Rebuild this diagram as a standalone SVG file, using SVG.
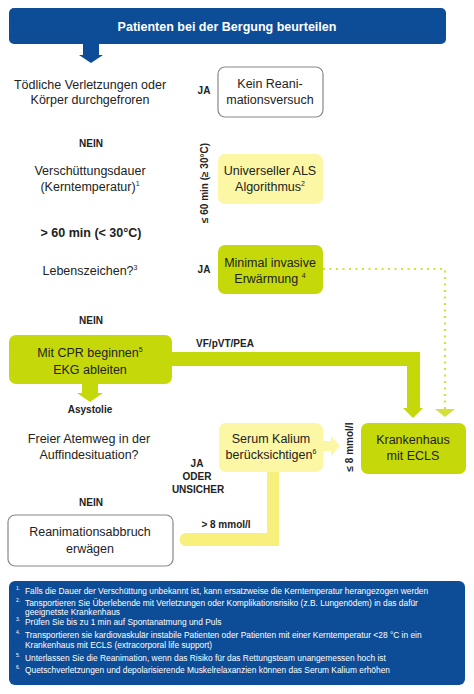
<svg xmlns="http://www.w3.org/2000/svg" width="474" height="694" viewBox="0 0 474 694">
<style>
text{font-family:"Liberation Sans",Arial,sans-serif;fill:#222;}
.t{font-size:12.5px;text-anchor:middle;}
.b{font-size:10px;font-weight:bold;text-anchor:middle;}
.bl{font-size:12.5px;font-weight:bold;text-anchor:middle;}
.w{fill:#fff;stroke:#888;stroke-width:1.2;}
.py{fill:#fbf7a4;}
.lm{fill:#c5d80a;}
.fn{font-size:8.4px;fill:#fff;}
.sn{font-size:5px;fill:#fff;}
</style>
<rect x="0" y="0" width="474" height="694" fill="#fff"/>
<g id="header">
<rect x="9" y="8" width="437" height="36" rx="5" fill="#0d4c96"/>
<text x="227" y="31" style="font-size:12.5px;font-weight:bold;fill:#fff;text-anchor:middle">Patienten bei der Bergung beurteilen</text>
</g>
<g id="connectors">
<path d="M83,43 H99 V55 H103 L91,63 L79,55 H83 Z" fill="#0d4c96"/>
<path d="M82,384 H98 V393 H103 L90,402 L77,393 H82 Z" fill="#c5d80a"/>
<path d="M172,352 H420 V408 H423 L413,418 L403,408 H407 V366 H172 Z" fill="#c5d80a"/>
<path d="M323,269 H445 V409" fill="none" stroke="#d4e03c" stroke-width="2.2" stroke-dasharray="2,4.5"/>
<path d="M435,409 H455 L445,417 Z" fill="#d4e03c"/>
<path d="M322,441 H331 V436 L340,446 L331,456 V451 H322 Z" fill="#fbf7a4"/>
<path d="M267,471 H279 V546 H186 A6.5,6.5 0 0 1 186,533 H267 Z" fill="#f8f07c"/>
<text class="b" transform="translate(208,183) rotate(-90)">≤ 60 min (≥ 30°C)</text>
<text class="b" transform="translate(353,447) rotate(-90)">≤ 8 mmol/l</text>
<text class="b" x="204" y="94">JA</text>
<text class="b" x="204" y="273">JA</text>
<text class="b" x="91" y="147">NEIN</text>
<text class="bl" x="91" y="237">&gt; 60 min (&lt; 30°C)</text>
<text class="b" x="91" y="324">NEIN</text>
<text class="b" x="225" y="347">VF/pVT/PEA</text>
<text class="b" x="90" y="413">Asystolie</text>
<text class="b" x="197" y="467">JA</text>
<text class="b" x="197" y="480">ODER</text>
<text class="b" x="198" y="493">UNSICHER</text>
<text class="b" x="91" y="506">NEIN</text>
<text class="b" x="226" y="528">&gt; 8 mmol/l</text>
</g>
<g id="q1">
<text class="t" x="90" y="89">Tödliche Verletzungen oder</text>
<text class="t" x="90" y="104">Körper durchgefroren</text>
</g>
<g id="kein">
<rect class="w" x="218" y="67" width="105" height="50" rx="7"/>
<text class="t" x="270" y="88">Kein Reani-</text>
<text class="t" x="270" y="104">mationsversuch</text>
</g>
<g id="q2">
<text class="t" x="90" y="175">Verschüttungsdauer</text>
<text class="t" x="90" y="191">(Kerntemperatur)<tspan dy="-5" style="font-size:7px">1</tspan></text>
</g>
<g id="als">
<rect class="py" x="218" y="154" width="105" height="50" rx="7"/>
<text class="t" x="270" y="175">Universeller ALS</text>
<text class="t" x="270" y="191">Algorithmus<tspan dy="-5" style="font-size:7px">2</tspan></text>
</g>
<g id="q3">
<text class="t" x="90" y="275">Lebenszeichen?<tspan dy="-5" style="font-size:7px">3</tspan></text>
</g>
<g id="warm">
<rect class="lm" x="218" y="245" width="105" height="49" rx="7"/>
<text class="t" x="270" y="267">Minimal invasive</text>
<text class="t" x="270" y="283">Erwärmung <tspan dy="-5" style="font-size:7px">4</tspan></text>
</g>
<g id="cpr">
<rect class="lm" x="9" y="335" width="163" height="49" rx="7"/>
<text class="t" x="90" y="357">Mit CPR beginnen<tspan dy="-5" style="font-size:7px">5</tspan></text>
<text class="t" x="90" y="374">EKG ableiten</text>
</g>
<g id="q4">
<text class="t" x="89" y="443">Freier Atemweg in der</text>
<text class="t" x="89" y="459">Auffindesituation?</text>
</g>
<g id="kalium">
<rect class="py" x="219" y="423" width="104" height="49" rx="7"/>
<text class="t" x="271" y="443">Serum Kalium</text>
<text class="t" x="271" y="459">berücksichtigen<tspan dy="-5" style="font-size:7px">6</tspan></text>
</g>
<g id="ecls">
<rect class="lm" x="361" y="423" width="105" height="51" rx="7"/>
<text class="t" x="413" y="444">Krankenhaus</text>
<text class="t" x="413" y="460">mit ECLS</text>
</g>
<g id="abbruch">
<rect class="w" x="8" y="515" width="165" height="51" rx="7"/>
<text class="t" x="90" y="536">Reanimationsabbruch</text>
<text class="t" x="90" y="553">erwägen</text>
</g>
<g id="footnotes">
<rect x="9" y="581" width="456" height="104" rx="6" fill="#0d4c96"/>
<text class="sn" x="16" y="590">1.</text>
<text class="fn" x="25" y="594">Falls die Dauer der Verschüttung unbekannt ist, kann ersatzweise die Kerntemperatur herangezogen werden</text>
<text class="sn" x="16" y="602">2.</text>
<text class="fn" x="25" y="606">Tansportieren Sie Überlebende mit Verletzungen oder Komplikationsrisiko (z.B. Lungenödem) in das dafür</text>
<text class="fn" x="25" y="615">geeignetste Krankenhaus</text>
<text class="sn" x="16" y="621">3.</text>
<text class="fn" x="25" y="625">Prüfen Sie bis zu 1 min auf Spontanatmung und Puls</text>
<text class="sn" x="16" y="634">4.</text>
<text class="fn" x="25" y="638">Transportieren sie kardiovaskulär instabile Patienten oder Patienten mit einer Kerntemperatur &lt;28 °C in ein</text>
<text class="fn" x="25" y="648">Krankenhaus mit ECLS (extracorporal life support)</text>
<text class="sn" x="16" y="657">5.</text>
<text class="fn" x="25" y="661">Unterlassen Sie die Reanimation, wenn das Risiko für das Rettungsteam unangemessen hoch ist</text>
<text class="sn" x="16" y="669">6.</text>
<text class="fn" x="25" y="673">Quetschverletzungen und depolarisierende Muskelrelaxanzien können das Serum Kalium erhöhen</text>
</g>
</svg>
